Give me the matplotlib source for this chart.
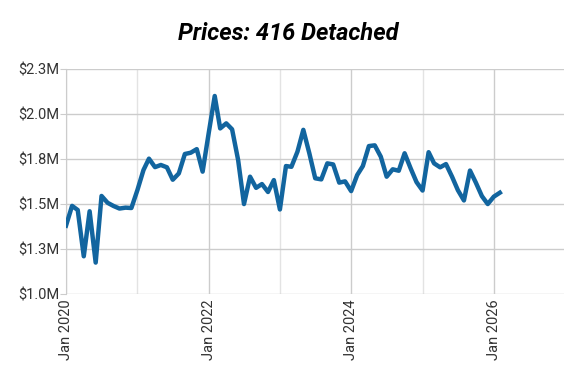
import numpy as np
import pandas as pd
import matplotlib
matplotlib.use('Agg')
import matplotlib.pyplot as plt
import matplotlib.dates as mdates

plt.rcParams['font.family'] = ['Roboto', 'DejaVu Sans']

# monthly prices in $M, Jan 2020 .. Feb 2026
months = pd.date_range('2020-01-01', '2026-02-01', freq='MS')
prices = [1.38, 1.49, 1.467, 1.21, 1.46, 1.175, 1.545, 1.507, 1.489, 1.475, 1.48, 1.478,
          1.578, 1.689, 1.752, 1.705, 1.717, 1.704, 1.635, 1.67, 1.778, 1.785, 1.805, 1.68,
          1.893, 2.10, 1.92, 1.948, 1.915, 1.744, 1.50, 1.652, 1.59, 1.611, 1.567, 1.633,
          1.47, 1.711, 1.707, 1.791, 1.912, 1.781, 1.643, 1.637, 1.726, 1.72, 1.619, 1.626,
          1.572, 1.661, 1.711, 1.822, 1.826, 1.763, 1.652, 1.693, 1.685, 1.782, 1.698, 1.622,
          1.575, 1.788, 1.726, 1.704, 1.722, 1.652, 1.577, 1.52, 1.686, 1.619, 1.544, 1.50,
          1.541, 1.563]

y_ticks = [1.0, 1.25, 1.5, 1.75, 2.0, 2.25]
y_labels = ['$1.0M', '$1.3M', '$1.5M', '$1.8M', '$2.0M', '$2.3M']

fig = plt.figure(figsize=(5.76, 3.79), dpi=100)
ax = fig.add_axes([0.1146, 0.224, 0.865, 0.594])

ax.plot(months, prices, color='#12659f', lw=3.2, solid_joinstyle='round', zorder=3)

ax.set_ylim(1.0, 2.25)
ax.set_yticks(y_ticks)
ax.set_yticklabels(y_labels)
ax.set_xlim(pd.Timestamp('2020-01-01'), pd.Timestamp('2026-12-28'))
ax.xaxis.set_major_locator(mdates.YearLocator(2))
ax.xaxis.set_minor_locator(mdates.YearLocator(1))
ax.xaxis.set_major_formatter(mdates.DateFormatter('Jan %Y'))
for lab in ax.get_xticklabels():
    lab.set_rotation(90)

ax.grid(axis='y', color='#cccccc', lw=1)
ax.grid(axis='x', which='major', color='#cccccc', lw=1)
ax.grid(axis='x', which='minor', color='#e3e3e3', lw=1)
for s in ['top', 'right', 'bottom']:
    ax.spines[s].set_visible(False)
ax.spines['left'].set_color('#cccccc')
ax.tick_params(axis='y', length=4, color='#cccccc', labelsize=10.5, labelcolor='#333333', pad=1)
ax.tick_params(axis='x', which='both', length=0, labelsize=10.5, labelcolor='#333333', pad=4)

fig.text(0.5, 0.912, 'Prices: 416 Detached', ha='center', va='center',
         fontsize=17, fontweight='bold', fontstyle='italic')

plt.savefig('out.png', dpi=100)
